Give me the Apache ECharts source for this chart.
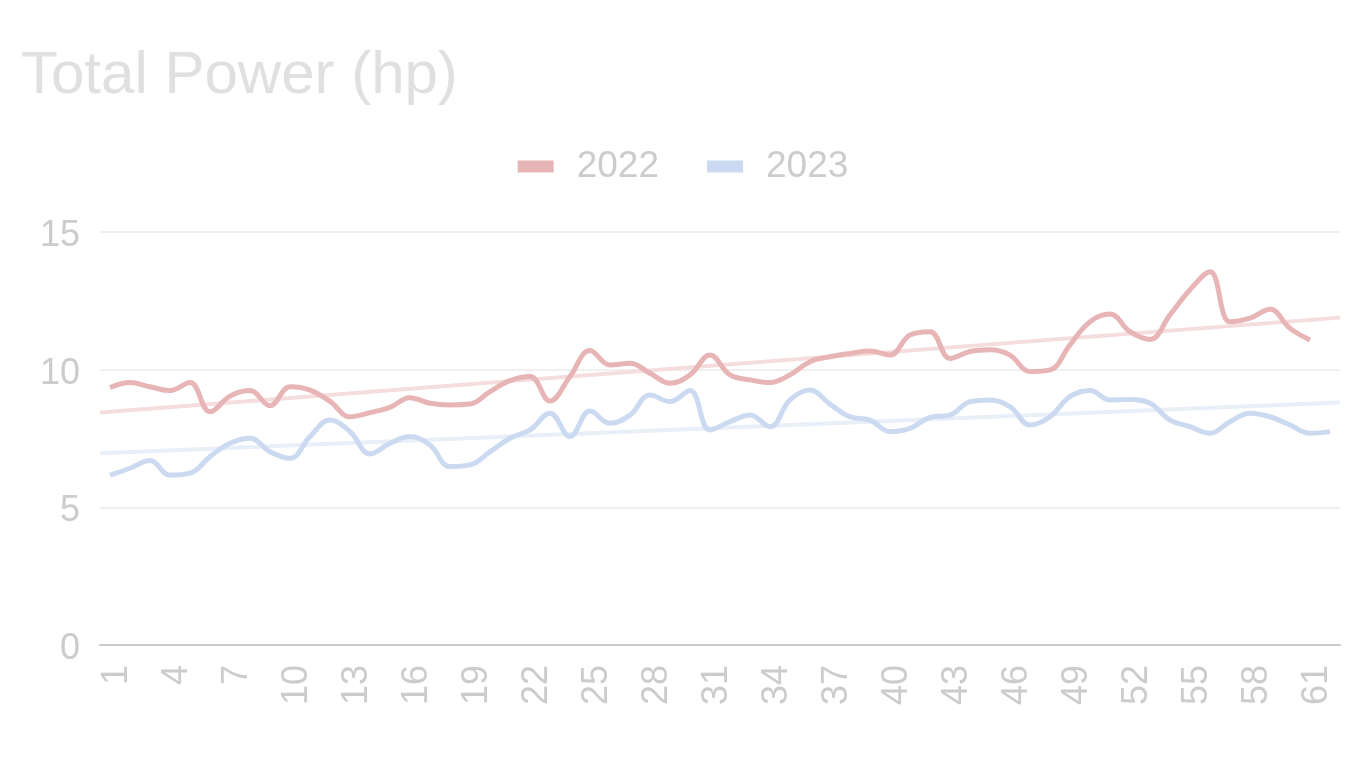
<!DOCTYPE html>
<html>
<head>
<meta charset="utf-8">
<script src="https://cdn.jsdelivr.net/npm/echarts@6/dist/echarts.min.js"></script>
<style>
html,body{margin:0;padding:0;background:#fff;}
#chart{width:1366px;height:768px;}
</style>
</head>
<body>
<div id="chart"></div>
<script>
var categories = [];
for (var c = 1; c <= 62; c++) categories.push(String(c));

var values2022 = [9.35,9.53,9.38,9.24,9.53,8.47,9.04,9.24,8.69,9.38,9.26,8.85,8.29,8.44,8.63,8.98,8.78,8.72,8.75,9.20,9.60,9.75,8.86,9.75,10.70,10.17,10.23,9.87,9.51,9.81,10.53,9.81,9.63,9.53,9.81,10.29,10.47,10.59,10.68,10.53,11.26,11.38,10.41,10.66,10.72,10.53,9.93,9.99,10.90,11.74,12.02,11.38,11.10,11.99,12.90,13.56,11.74,11.87,12.19,11.50,11.08];
var values2023 = [6.17,6.42,6.70,6.17,6.24,6.84,7.33,7.51,7.02,6.78,7.57,8.17,7.75,6.94,7.33,7.57,7.26,6.48,6.54,7.02,7.51,7.81,8.42,7.57,8.50,8.05,8.35,9.08,8.84,9.24,7.81,8.11,8.35,7.93,8.90,9.26,8.75,8.29,8.17,7.75,7.87,8.27,8.35,8.84,8.90,8.66,7.99,8.29,9.02,9.24,8.90,8.92,8.78,8.17,7.93,7.69,8.11,8.42,8.29,7.99,7.69,7.75];
var trend2022 = [8.44, 11.89];
var trend2023 = [6.96, 8.81];
var yTicks = [0, 5, 10, 15];

var font = "'Liberation Sans', Arial, sans-serif";
var chart = echarts.init(document.getElementById('chart'));
chart.setOption({
  animation: false,
  backgroundColor: '#fff',
  title: {
    text: 'Total Power (hp)',
    left: 16, top: 41,
    textStyle: {fontFamily: font, fontSize: 60, fontWeight: 'normal', color: '#e0e0e0'}
  },
  legend: {
    data: ['2022', '2023'],
    left: 'center', top: 143,
    icon: 'rect', itemWidth: 36, itemHeight: 12, itemGap: 48,
    textStyle: {fontFamily: font, fontSize: 37, color: '#cccccc', padding: [0, 0, 0, 18]}
  },
  grid: {left: 100, right: 26, top: 232, bottom: 123, containLabel: false},
  xAxis: [{
    type: 'category',
    data: categories,
    boundaryGap: true,
    axisLine: {lineStyle: {color: '#cccccc', width: 2}},
    axisTick: {show: false},
    axisLabel: {interval: 2, rotate: 90, margin: 20, fontFamily: font, fontSize: 36, color: '#cccccc',
      verticalAlign: 'top', lineHeight: 14}
  }, {
    type: 'value', min: 0, max: 1, show: false
  }],
  yAxis: {
    type: 'value', min: yTicks[0], max: yTicks[yTicks.length - 1], interval: 5,
    axisLine: {show: false}, axisTick: {show: false},
    axisLabel: {margin: 20, fontFamily: font, fontSize: 36, color: '#cccccc',
      verticalAlign: 'top', lineHeight: 8},
    splitLine: {lineStyle: {color: '#f0f0f0', width: 2}}
  },
  series: [{
    name: '2022trend', type: 'line', xAxisIndex: 1,
    data: [[0, trend2022[0]], [1, trend2022[1]]],
    symbol: 'none', silent: true, z: 1,
    lineStyle: {color: '#f6dddd', width: 4}
  }, {
    name: '2023trend', type: 'line', xAxisIndex: 1,
    data: [[0, trend2023[0]], [1, trend2023[1]]],
    symbol: 'none', silent: true, z: 1,
    lineStyle: {color: '#e8eff9', width: 4}
  }, {
    name: '2022', type: 'line', data: values2022,
    smooth: 0.4, symbol: 'none', z: 3,
    itemStyle: {color: '#e8b5b7'},
    lineStyle: {color: '#e8b5b7', width: 5}
  }, {
    name: '2023', type: 'line', data: values2023,
    smooth: 0.4, symbol: 'none', z: 3,
    itemStyle: {color: '#cbdaf1'},
    lineStyle: {color: '#cbdaf1', width: 5}
  }]
});
</script>
</body>
</html>
